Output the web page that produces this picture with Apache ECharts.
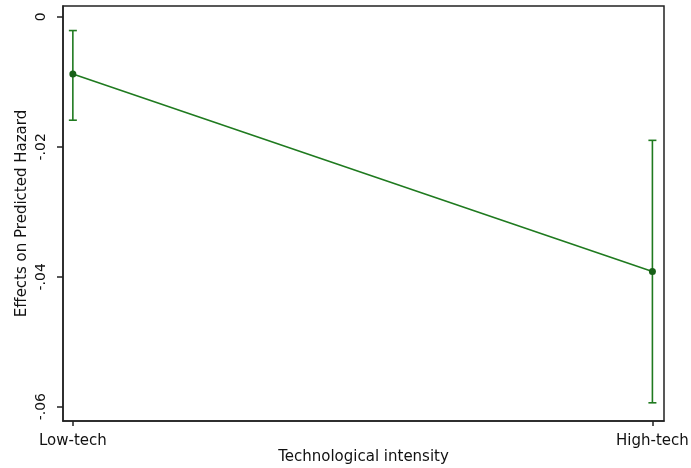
<!DOCTYPE html>
<html>
<head>
<meta charset="utf-8">
<script src="https://cdn.jsdelivr.net/npm/echarts@6/dist/echarts.min.js"></script>
<style>html,body{margin:0;padding:0;background:#fff}#c{width:691px;height:468px}</style>
</head>
<body>
<div id="c"></div>
<script>
var categories = ['Low-tech', 'High-tech'];
var effects = [-0.0088, -0.0392];
var ciUpper = [-0.0021, -0.0190];
var ciLower = [-0.0159, -0.0594];
var yTicks = [0, -0.02, -0.04, -0.06];
var xTicks = [0, 1];

var green = '#1f7a1f';
var font = 'DejaVu Sans, Liberation Sans, sans-serif';

var pts = effects.map(function (v, i) { return [xTicks[i], v]; });
var bars = effects.map(function (v, i) { return [xTicks[i], ciLower[i], ciUpper[i]]; });

var chart = echarts.init(document.getElementById('c'), null, {renderer: 'canvas'});
chart.setOption({
  animation: false,
  backgroundColor: '#fff',
  grid: {left: 63, right: 27, top: 6, bottom: 47, show: true, borderColor: '#222', borderWidth: 1.5,
    containLabel: false, outerBoundsMode: 'none'},
  xAxis: {
    type: 'value', min: -0.017, max: 1.02,
    name: 'Technological intensity', nameLocation: 'middle', nameGap: 28.5, nameMoveOverlap: false,
    nameTextStyle: {fontFamily: font, fontSize: 15, color: '#111'},
    axisLine: {show: true, onZero: false, lineStyle: {color: '#222', width: 1.5}},
    axisTick: {show: true, length: 5, customValues: xTicks, lineStyle: {color: '#222', width: 1.5}},
    axisLabel: {customValues: xTicks, margin: 13, fontFamily: font, fontSize: 15, color: '#111',
      formatter: function (v) { return categories[Math.round(v)]; }},
    splitLine: {show: false}
  },
  yAxis: {
    type: 'value', min: -0.0622, max: 0.00168,
    name: 'Effects on Predicted Hazard', nameLocation: 'middle', nameGap: 33, nameMoveOverlap: false,
    nameTextStyle: {fontFamily: font, fontSize: 15, color: '#111'},
    axisLine: {show: true, onZero: false, lineStyle: {color: '#222', width: 1.5}},
    axisTick: {show: true, length: 6, customValues: yTicks, lineStyle: {color: '#222', width: 1.5}},
    axisLabel: {customValues: yTicks, rotate: 90, margin: 15, fontFamily: font, fontSize: 14, color: '#111',
      formatter: function (v) { if (v === 0) return '0'; return '-' + Math.abs(v).toFixed(2).replace(/^0/, ''); }},
    splitLine: {show: false}
  },
  series: [
    {
      type: 'custom',
      data: bars,
      renderItem: function (params, api) {
        var x = api.value(0);
        var lo = api.coord([x, api.value(1)]);
        var hi = api.coord([x, api.value(2)]);
        var hw = 4;
        var st = {stroke: green, lineWidth: 1.6};
        return {type: 'group', children: [
          {type: 'line', shape: {x1: lo[0], y1: lo[1], x2: hi[0], y2: hi[1]}, style: st},
          {type: 'line', shape: {x1: lo[0] - hw, y1: lo[1], x2: lo[0] + hw, y2: lo[1]}, style: st},
          {type: 'line', shape: {x1: hi[0] - hw, y1: hi[1], x2: hi[0] + hw, y2: hi[1]}, style: st}
        ]};
      },
      z: 2
    },
    {
      type: 'line',
      data: pts,
      symbol: 'circle', symbolSize: 7,
      lineStyle: {color: green, width: 1.6},
      itemStyle: {color: '#176017'},
      z: 3
    }
  ]
});
</script>
</body>
</html>
